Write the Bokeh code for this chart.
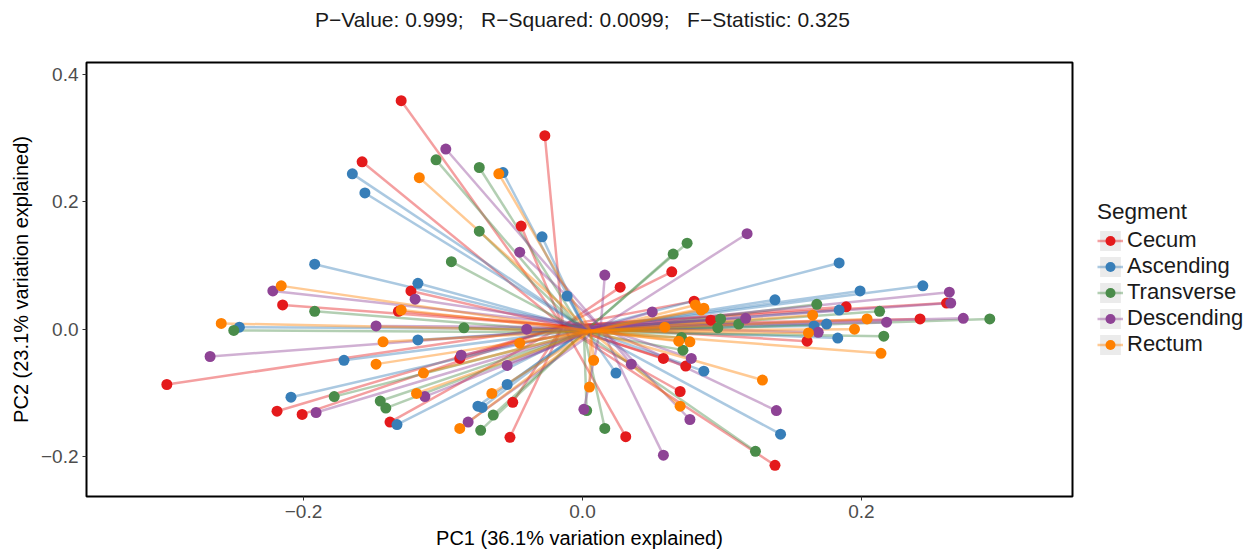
from bokeh.plotting import figure
from bokeh.layouts import row, column
from bokeh.models import (ColumnDataSource, Legend, LegendItem, Range1d,
                          FixedTicker, CustomJSTickFormatter, Label)
from bokeh.embed import file_html
from bokeh.resources import INLINE

# Beta-dispersion spider plot: each sample joined to its segment's centroid
segments = ["Cecum", "Ascending", "Transverse", "Descending", "Rectum"]
palette = ["#E41A1C", "#377EB8", "#4A8C4A", "#8E4395", "#FF8000"]

cecum_pc1 = [-0.130, -0.158, -0.027, -0.044, 0.064, -0.123, -0.215, -0.132, -0.298,
             -0.219, -0.201, -0.138, -0.088, -0.050, -0.052, 0.027, 0.080, 0.092,
             0.058, 0.074, 0.070, 0.031, 0.189, 0.261, 0.242, 0.161, 0.138]
cecum_pc2 = [0.359, 0.263, 0.304, 0.162, 0.090, 0.060, 0.038, 0.028, -0.087,
             -0.129, -0.134, -0.146, -0.046, -0.115, -0.170, 0.066, 0.044, 0.014,
             -0.046, -0.058, -0.098, -0.169, 0.035, 0.041, 0.016, -0.019, -0.214]

ascending_pc1 = [-0.165, -0.156, -0.057, -0.029, -0.192, -0.118, -0.246, -0.118, -0.171,
                 -0.209, -0.133, -0.054, -0.075, -0.072, -0.011, 0.024, 0.087, 0.184,
                 0.244, 0.199, 0.138, 0.184, 0.175, 0.166, 0.183, 0.142]
ascending_pc2 = [0.244, 0.214, 0.246, 0.145, 0.102, 0.072, 0.003, -0.017, -0.049,
                 -0.107, -0.150, -0.087, -0.121, -0.123, 0.052, -0.069, -0.066, 0.104,
                 0.068, 0.060, 0.046, 0.030, 0.008, 0.005, -0.014, -0.165]

transverse_pc1 = [-0.105, -0.074, -0.074, -0.094, 0.075, 0.065, -0.192, -0.250, -0.178,
                  -0.145, -0.141, -0.085, -0.064, -0.073, 0.003, 0.016, 0.099, 0.097,
                  0.112, 0.071, 0.072, 0.168, 0.213, 0.292, 0.216, 0.124]
transverse_pc2 = [0.266, 0.254, 0.154, 0.106, 0.135, 0.118, 0.028, -0.002, -0.106,
                  -0.113, -0.124, 0.002, -0.135, -0.159, -0.128, -0.156, 0.016, 0.002,
                  0.008, -0.013, -0.033, 0.039, 0.028, 0.016, -0.011, -0.192]

descending_pc1 = [-0.098, -0.045, 0.016, 0.118, -0.222, -0.120, -0.148, -0.267, -0.191,
                  -0.087, -0.040, -0.054, -0.113, 0.001, -0.082, 0.050, 0.035, 0.078,
                  0.077, 0.058, 0.263, 0.264, 0.273, 0.218, 0.117, 0.169, 0.139]
descending_pc2 = [0.283, 0.121, 0.085, 0.150, 0.060, 0.047, 0.005, -0.043, -0.131,
                  -0.041, 0.000, -0.057, -0.106, -0.126, -0.146, 0.027, -0.055, -0.046,
                  -0.142, -0.198, 0.058, 0.041, 0.017, 0.011, 0.017, -0.005, -0.128]

rectum_pc1 = [-0.117, -0.060, -0.216, -0.130, -0.259, -0.143, -0.148, -0.119, -0.114,
              -0.045, -0.065, -0.088, 0.008, 0.005, 0.070, 0.059, 0.069, 0.077,
              0.081, 0.085, 0.087, 0.165, 0.204, 0.195, 0.162, 0.214, 0.129]
rectum_pc2 = [0.238, 0.244, 0.068, 0.030, 0.009, -0.020, -0.055, -0.101, -0.069,
              -0.022, -0.101, -0.156, -0.049, -0.091, -0.121, 0.003, -0.019, -0.020,
              0.038, 0.030, 0.033, 0.022, 0.016, 0.000, -0.006, -0.038, -0.080]

# group centroids (spatial medians) in the same order as `segments`
centroid_pc1 = [-0.014, 0.002, 0.001, 0.013, 0.006]
centroid_pc2 = [0.005, 0.000, -0.005, 0.003, -0.003]

pc1_data = [cecum_pc1, ascending_pc1, transverse_pc1, descending_pc1, rectum_pc1]
pc2_data = [cecum_pc2, ascending_pc2, transverse_pc2, descending_pc2, rectum_pc2]

title_text = "P\u2212Value: 0.999;\u00a0\u00a0 R\u2212Squared: 0.0099;\u00a0\u00a0 F\u2212Statistic: 0.325"
FONT = "Liberation Sans"
LINE_ALPHA, LINE_WIDTH, DOT_SIZE = 0.42, 2.5, 11
TITLE_H = 40


def bare_figure(width, height):
    f = figure(width=width, height=height, output_backend="svg", toolbar_location=None,
               x_range=Range1d(10, 11), y_range=Range1d(10, 11),
               x_axis_location=None, y_axis_location=None,
               min_border_left=0, min_border_right=0, min_border_top=0,
               min_border_bottom=0)
    f.outline_line_color = None
    f.grid.visible = False
    return f


# statistics strip across the top
head = bare_figure(1251, TITLE_H)
head.add_layout(Label(x=582, y=21, x_units="screen", y_units="screen", text=title_text,
                      text_align="center", text_baseline="middle", text_font=FONT,
                      text_font_size="21px", text_color="#1A1A1A"))

p = figure(width=1074, height=554 - TITLE_H, output_backend="svg", toolbar_location=None,
           x_range=Range1d(-0.3556, 0.3513), y_range=Range1d(-0.263, 0.419),
           min_border_left=86, min_border_right=2, min_border_top=62 - TITLE_H,
           min_border_bottom=58)

p.background_fill_color = "white"
p.border_fill_color = "white"
p.outline_line_color = "black"
p.outline_line_width = 2
p.grid.visible = False

p.xaxis.ticker = FixedTicker(ticks=[-0.2, 0.0, 0.2])
p.yaxis.ticker = FixedTicker(ticks=[-0.2, 0.0, 0.2, 0.4])
fmt = "return (tick < -1e-9 ? '\\u2212' : '') + Math.abs(tick).toFixed(1);"
for ax in (p.xaxis, p.yaxis):
    ax.formatter = CustomJSTickFormatter(code=fmt)
    ax.axis_line_color = None
    ax.major_tick_in = 0
    ax.major_tick_out = 4
    ax.major_tick_line_color = "#333333"
    ax.major_tick_line_width = 1
    ax.minor_tick_line_color = None
    ax.major_label_text_font = FONT
    ax.major_label_text_font_size = "19px"
    ax.major_label_text_color = "#4D4D4D"
    ax.major_label_standoff = 4
    ax.axis_label_text_font = FONT
    ax.axis_label_text_font_size = "20px"
    ax.axis_label_text_font_style = "normal"
    ax.axis_label_text_color = "black"
    ax.axis_label_standoff = 6

p.xaxis.axis_label = "PC1 (36.1% variation explained)"
p.yaxis.axis_label = "PC2 (23.1% variation explained)"

sources = []
for xs, ys, cx, cy, color in zip(pc1_data, pc2_data, centroid_pc1, centroid_pc2, palette):
    src = ColumnDataSource(dict(x=xs, y=ys, cx=[cx] * len(xs), cy=[cy] * len(xs)))
    p.segment(x0="x", y0="y", x1="cx", y1="cy", source=src,
              line_color=color, line_alpha=LINE_ALPHA, line_width=LINE_WIDTH)
    sources.append(src)

for src, color in zip(sources, palette):
    p.scatter(x="x", y="y", source=src, size=DOT_SIZE, fill_color=color, line_color=None)

# legend panel beside the plot (its glyphs sit outside its own ranges,
# so only the legend keys are drawn)
lg = bare_figure(177, 554 - TITLE_H)
items = []
for name, color, src in zip(segments, palette, sources):
    key = lg.quad(left="x", right="x", top="y", bottom="y", source=src,
                  fill_color="#EBEBEB", line_color=None)
    ln = lg.segment(x0="x", y0="y", x1="cx", y1="cy", source=src, line_color=color,
                    line_alpha=LINE_ALPHA, line_width=LINE_WIDTH)
    dot = lg.scatter(x="x", y="y", source=src, size=DOT_SIZE, fill_color=color,
                     line_color=None)
    items.append(LegendItem(label=name, renderers=[key, ln, dot]))

legend = Legend(items=items, title="Segment", location=(23, 139),
                glyph_width=26, glyph_height=25, spacing=0, padding=0, margin=0,
                label_standoff=4, label_height=20, border_line_color=None,
                background_fill_alpha=0,
                label_text_font=FONT, label_text_font_size="22px",
                label_text_line_height=1.0,
                label_text_color="#1A1A1A", title_text_font=FONT,
                title_text_font_size="22.5px", title_text_font_style="normal",
                title_text_color="#1A1A1A", title_standoff=2)
lg.add_layout(legend)

open("out.html", "w").write(file_html(column(head, row(p, lg)), INLINE))
